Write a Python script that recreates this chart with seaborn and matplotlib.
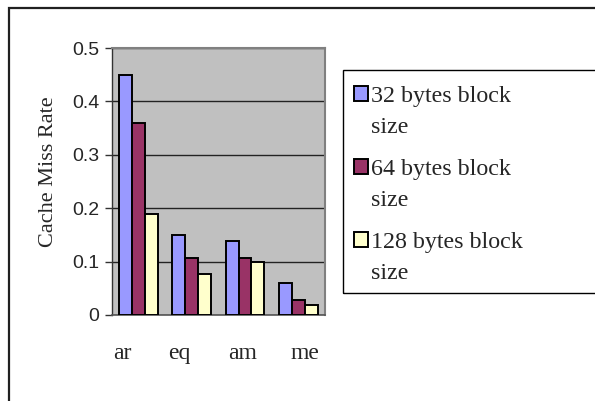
import numpy as np
import pandas as pd
import matplotlib
matplotlib.use("Agg")
import matplotlib.pyplot as plt
import seaborn as sns
from matplotlib.patches import Rectangle
from matplotlib.offsetbox import HPacker
from matplotlib.transforms import ScaledTranslation

benchmarks = ["ar", "eq", "am", "me"]
block_sizes = ["32 bytes block\nsize", "64 bytes block\nsize", "128 bytes block\nsize"]
miss_32 = [0.45, 0.15, 0.138, 0.059]
miss_64 = [0.36, 0.107, 0.107, 0.029]
miss_128 = [0.19, 0.077, 0.100, 0.018]
colors = ["#9999FF", "#993366", "#FFFFCC"]

df = pd.DataFrame({
    "bench": benchmarks * 3,
    "size": np.repeat(block_sizes, len(benchmarks)),
    "rate": miss_32 + miss_64 + miss_128,
})

sns.set_style("white")
serif = ["Liberation Serif", "DejaVu Serif"]
sans = ["Liberation Sans", "DejaVu Sans"]

fig = plt.figure(figsize=(5.95, 4.01), dpi=100)
ax = fig.add_axes([0.188, 0.2145, 0.358, 0.6655])
ax.set_facecolor("#C0C0C0")

sns.barplot(data=df, x="bench", y="rate", hue="size", palette=colors,
            width=0.73, edgecolor="black", linewidth=1.4, saturation=1,
            ax=ax, zorder=3)

ax.set_ylim(0, 0.5)
ax.set_yticks([0, 0.1, 0.2, 0.3, 0.4, 0.5])
ax.set_yticklabels(["0", "0.1", "0.2", "0.3", "0.4", "0.5"], family=sans, fontsize=14)
ax.yaxis.grid(True, color="#222222", linewidth=1, zorder=0)
ax.set_axisbelow(True)
ax.tick_params(axis="y", length=5, width=1, color="#333333", pad=4, left=True)
ax.tick_params(axis="x", length=0, pad=20)
# excel spreads the category labels a little wider than the bars
shifts = [-16, -12, -2, 7]
for lbl, dx in zip(ax.get_xticklabels(), shifts):
    lbl.set_family(serif)
    lbl.set_fontsize(17)
    lbl.set_transform(lbl.get_transform() + ScaledTranslation(dx / 100, 0, fig.dpi_scale_trans))
ax.set_xlabel("")
ax.set_ylabel("Cache Miss Rate", family=serif, fontsize=16)
ax.yaxis.set_label_coords(-0.252, 0.536)

for side in ["top", "right"]:
    ax.spines[side].set_color("#808080")
    ax.spines[side].set_linewidth(1.5)
ax.spines["left"].set_color("#333333")
ax.spines["bottom"].set_color("#555555")
ax.spines["left"].set_linewidth(1)
ax.spines["bottom"].set_linewidth(1.2)

handles, labels = ax.get_legend_handles_labels()
ax.get_legend().remove()
leg = fig.legend(handles, labels, loc="upper left",
                 bbox_to_anchor=(343 / 595, 1 - 75 / 401),
                 bbox_transform=fig.transFigure,
                 prop={"family": serif, "size": 17.3}, frameon=False,
                 borderaxespad=0, handlelength=0.58, handleheight=0.58,
                 handletextpad=0.15, labelspacing=0.86, borderpad=0.45)
for t in leg.get_texts():
    t.set_linespacing(1.65)
for hp in leg.findobj(HPacker):
    hp.align = "top"
for p in leg.get_patches():
    p.set_edgecolor("black")
    p.set_linewidth(1.4)

# legend frame runs off the right edge like the original
fig.patches.append(Rectangle((343 / 595, 1 - 293 / 401), 1, (293 - 70) / 401,
                             transform=fig.transFigure, fill=False,
                             edgecolor="black", linewidth=1))

# outer chart border
fig.patches.append(Rectangle((9 / 595, -0.1), 1.2, 1.1 - 8 / 401,
                             transform=fig.transFigure, fill=False,
                             edgecolor="#202020", linewidth=1.6))

fig.savefig("out.png", dpi=100)
